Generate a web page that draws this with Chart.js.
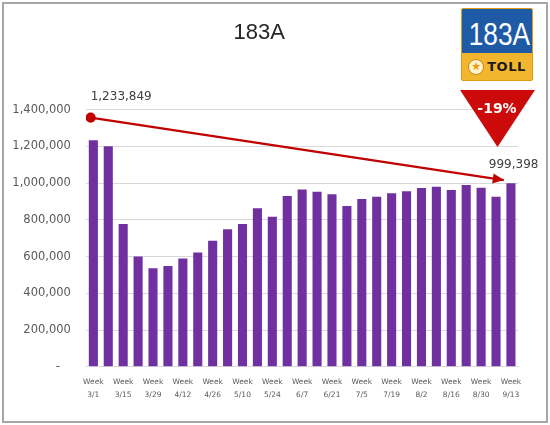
<!DOCTYPE html>
<html>
<head>
<meta charset="utf-8">
<script src="https://cdn.jsdelivr.net/npm/chart.js@4"></script>
<style>
  html,body{margin:0;padding:0;background:#fff;}
  #wrap{position:relative;width:550px;height:425px;overflow:hidden;}
  #frame{position:absolute;left:2px;top:2px;width:546px;height:421px;box-sizing:border-box;border:2px solid #a6a6a6;pointer-events:none;}
  #logo{position:absolute;left:461px;top:8px;width:72px;height:73px;box-sizing:border-box;border:1px solid #d99a14;background:#F2B52E;border-radius:2px;overflow:hidden;}
  #logoTop{height:44px;background:#1F5AA6;color:#fff;text-align:center;line-height:44px;white-space:nowrap;}
  #logoTop span{display:inline-block;font:32px "Liberation Sans",sans-serif;line-height:44px;transform:scaleX(0.82);position:relative;top:3px;}
  #logoBot{height:27px;display:flex;align-items:center;justify-content:center;font:bold 13px "DejaVu Sans",sans-serif;color:#1a1a1a;letter-spacing:0.5px;}
  #ico{width:14px;height:14px;border-radius:50%;background:#fff3d0;border:1px solid #c98a10;margin-right:3px;font:11px "DejaVu Sans";color:#f09a10;line-height:14px;text-align:center;letter-spacing:0;}
  #tri{position:absolute;left:0;top:0;pointer-events:none;}
</style>
</head>
<body>
<div id="wrap">
  <canvas id="c" width="550" height="425"></canvas>
  <div id="frame"></div>
  <div id="logo"><div id="logoTop"><span>183A</span></div><div id="logoBot"><span id="ico">★</span>TOLL</div></div>
  <svg id="tri" width="550" height="425">
    <polygon points="460,90 535,90 497.5,147" fill="#CC0A0A"/>
    <text id="pct" x="497" y="113" fill="#fff" text-anchor="middle" font-family="DejaVu Sans" font-weight="bold" font-size="14"></text>
  </svg>
</div>
<script>
// ---- data ----
const weeks = ['3/1','3/8','3/15','3/22','3/29','4/5','4/12','4/19','4/26','5/3','5/10','5/17','5/24','5/31',
  '6/7','6/14','6/21','6/28','7/5','7/12','7/19','7/26','8/2','8/9','8/16','8/23','8/30','9/6','9/13'];
const transactions = [1233849,1202000,778000,600000,536000,549000,589000,623000,687000,749000,778000,863000,817000,930000,
  965000,954000,940000,876000,914000,926000,945000,956000,974000,981000,963000,990000,975000,926000,999398];
const yTicks = [0,200000,400000,600000,800000,1000000,1200000,1400000];
// trend arrow (annotation) in data units: x = week index, y = transactions
const trendX = [-0.18, 27.52];
const trendY = [1357000, 1017000];

const fmt = v => v.toLocaleString('en-US');
const firstVal = transactions[0], lastVal = transactions[transactions.length-1];
document.getElementById('pct').textContent = Math.round((lastVal-firstVal)/firstVal*100) + '%';

const arrowPlugin = {
  id:'arrowPlugin',
  afterDatasetsDraw(chart){
    const meta = chart.getDatasetMeta(0);
    const p0 = meta.data[0], p1 = meta.data[1];
    const ctx = chart.ctx;
    ctx.save();
    const ang = Math.atan2(p1.y-p0.y, p1.x-p0.x);
    const L = 11, W = 5;
    ctx.fillStyle = '#C00000';
    ctx.beginPath();
    ctx.moveTo(p1.x, p1.y);
    ctx.lineTo(p1.x - L*Math.cos(ang) + W*Math.sin(ang), p1.y - L*Math.sin(ang) - W*Math.cos(ang));
    ctx.lineTo(p1.x - L*Math.cos(ang) - W*Math.sin(ang), p1.y - L*Math.sin(ang) + W*Math.cos(ang));
    ctx.closePath();
    ctx.fill();
    ctx.font = '12px "DejaVu Sans"';
    ctx.fillStyle = '#404040';
    ctx.textBaseline = 'middle';
    ctx.textAlign = 'left';
    ctx.fillText(fmt(firstVal), p0.x, p0.y - 21);
    ctx.fillText(fmt(lastVal), p1.x - 15, p1.y - 15);
    ctx.restore();
  }
};

new Chart(document.getElementById('c'), {
  data:{
    labels: weeks,
    datasets:[
      {
        type:'line', xAxisID:'xl', yAxisID:'y', order:1,
        data: trendX.map((x,i)=>({x:x, y:trendY[i]})),
        borderColor:'#C00000', borderWidth:2.2,
        pointRadius:[4,0], pointBackgroundColor:'#C00000', pointBorderColor:'#C00000',
        fill:false, tension:0
      },
      {
        type:'bar', xAxisID:'x', yAxisID:'y', order:2, grouped:false,
        data: transactions,
        backgroundColor:'#7030A0',
        barPercentage:0.61, categoryPercentage:1
      }
    ]
  },
  options:{
    responsive:false, animation:false,
    layout:{padding:{top:0,left:0,right:31.6,bottom:0}},
    plugins:{
      legend:{display:false}, tooltip:{enabled:false},
      title:{display:true, text:'183A', color:'#262626',
        font:{family:'"Liberation Sans"', size:22, weight:'normal', lineHeight:1.2},
        padding:{top:20, bottom:63.4}}
    },
    scales:{
      x:{
        type:'category', offset:true,
        grid:{display:false, drawTicks:false},
        border:{display:false},
        ticks:{autoSkip:false, maxRotation:0, minRotation:0, padding:8.5, color:'#595959',
          font:{family:'"DejaVu Sans"', size:7.5, lineHeight:1.75},
          callback:(v,i)=> i%2===0 ? ['Week', weeks[i]] : ''},
        afterFit:s=>{ s.height = 425 - 366.7; }
      },
      xl:{
        type:'linear', display:false, min:-0.5, max:weeks.length-0.5
      },
      y:{
        min:0, max:1400000,
        afterBuildTicks:s=>{ s.ticks = yTicks.map(v=>({value:v})); },
        grid:{color:'#d9d9d9', lineWidth:1, drawTicks:false},
        border:{display:false},
        ticks:{padding:15, color:'#595959', font:{family:'"DejaVu Sans"', size:11.5},
          callback:v=> v===0 ? '-   ' : fmt(v)},
        afterFit:s=>{ s.width = 85.9; }
      }
    }
  },
  plugins:[arrowPlugin]
});
</script>
</body>
</html>
